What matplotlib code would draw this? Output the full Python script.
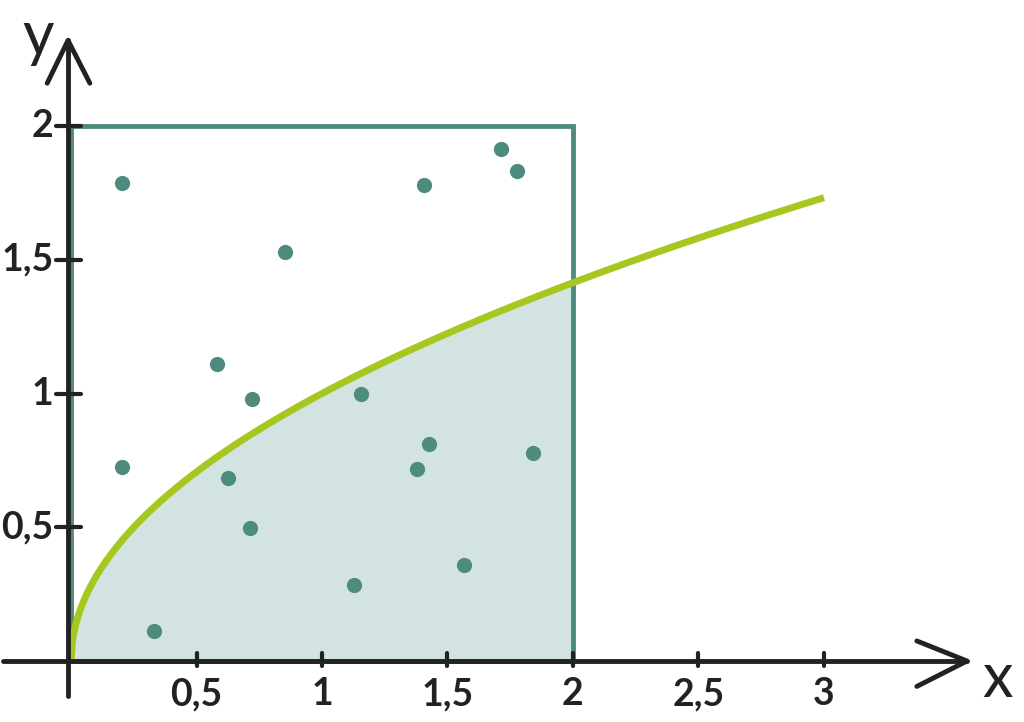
import numpy as np
import matplotlib.pyplot as plt

# Random sample points (Monte Carlo style)
pts_x = [0.203, 1.713, 1.777, 1.406, 0.853, 0.582, 0.721, 1.155, 1.426, 1.378,
         1.841, 0.203, 0.625, 0.713, 1.566, 1.127, 0.331]
pts_y = [1.787, 1.914, 1.831, 1.779, 1.528, 1.112, 0.978, 1.000, 0.813, 0.719,
         0.779, 0.727, 0.685, 0.498, 0.360, 0.285, 0.112]

x_ticks = [0.5, 1, 1.5, 2, 2.5, 3]
x_tick_labels = ['0,5', '1', '1,5', '2', '2,5', '3']
y_ticks = [0.5, 1, 1.5, 2]
y_tick_labels = ['0,5', '1', '1,5', '2']

square_side = 2
curve_end = 3

teal = '#4e8b7f'
fill_col = '#d3e3e1'
lime = '#a6c81e'
ink = '#222222'

fig = plt.figure(figsize=(10.24, 7.22), dpi=100)
ax = fig.add_axes([0, 0, 1, 1])
ax.set_xlim(-0.283, 3.797)
ax.set_ylim(-0.228, 2.471)
ax.axis('off')

# Shaded region under sqrt(x) inside the square
xs = np.linspace(0, square_side, 400)
ax.fill_between(xs, 0, np.sqrt(xs), color=fill_col, zorder=1)

# Square
ax.plot([0, square_side, square_side, 0, 0], [0, 0, square_side, square_side, 0],
        color=teal, lw=3.5, zorder=2, solid_joinstyle='miter')

# Curve y = sqrt(x)
xc = np.linspace(0, curve_end, 600)
ax.plot(xc, np.sqrt(xc), color=lime, lw=5, zorder=3, solid_capstyle='butt')

# Points
ax.scatter(pts_x, pts_y, s=120, color=teal, zorder=4, linewidths=0)

# Hand-drawn style axes
ax.plot([-0.27, 3.57], [0, 0], color=ink, lw=3.5, zorder=5, solid_capstyle='round')
ax.plot([-0.012, -0.012], [-0.13, 2.32], color=ink, lw=3.5, zorder=5, solid_capstyle='round')
# arrow heads
ax.plot([3.37, 3.57, 3.37], [0.075, 0, -0.095], color=ink, lw=3.5, zorder=5,
        solid_capstyle='round', solid_joinstyle='round')
ax.plot([-0.095, -0.012, 0.075], [2.16, 2.32, 2.16], color=ink, lw=3.5, zorder=5,
        solid_capstyle='round', solid_joinstyle='round')

# ticks
for t, lab in zip(x_ticks, x_tick_labels):
    ax.plot([t, t], [-0.02, 0.03], color=ink, lw=3, zorder=5, solid_capstyle='round')
    ax.text(t, -0.06, lab, ha='center', va='top', fontsize=27, color=ink,
            family='Lato', fontweight='bold')
for t, lab in zip(y_ticks, y_tick_labels):
    ax.plot([-0.06, 0.04], [t, t], color=ink, lw=3, zorder=5, solid_capstyle='round')
    ax.text(-0.07, t, lab, ha='right', va='center', fontsize=27, color=ink,
            family='Lato', fontweight='bold')

ax.text(-0.13, 2.33, 'y', ha='center', va='center', fontsize=44, color=ink, family='Lato')
ax.text(3.69, -0.07, 'x', ha='center', va='center', fontsize=44, color=ink, family='Lato')

fig.savefig('out.png', dpi=100)
